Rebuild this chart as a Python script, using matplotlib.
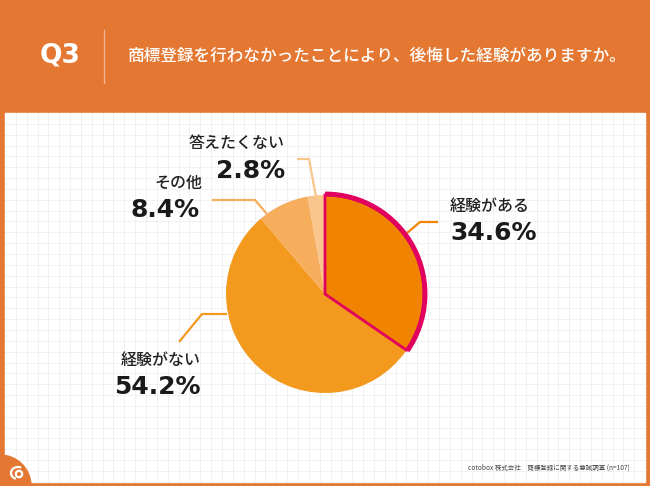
import numpy as np
import matplotlib
matplotlib.use("Agg")
import matplotlib.pyplot as plt
from matplotlib.patches import Rectangle, Circle, Arc, Wedge

plt.rcParams['font.family'] = ['Noto Sans CJK JP', 'DejaVu Sans']

# data
categories = ['経験がある', '経験がない', 'その他', '答えたくない']
values = [34.6, 54.2, 8.4, 2.8]
pct_labels = ['34.6%', '54.2%', '8.4%', '2.8%']
title_q = 'Q3'
title_text = '商標登録を行わなかったことにより、後悔した経験がありますか。'
source_text = 'cotobox 株式会社　商標登録に関する意識調査 (n=107)'

# styles
colors = ['#F08300', '#F39A1E', '#F6AE5C', '#F8C58C']
magenta = '#E2005F'
bg_orange = '#E47832'

# label layout in image pixels (x, y from top)
label_pos = [(490, 206), (161, 360), (178, 183), (237, 143)]
pct_pos = [(494, 233), (157, 387), (165, 210), (251, 171)]
leaders = [
    [(407, 233), (420, 222), (438, 222)],
    [(227, 314), (202, 314), (179, 342)],
    [(267, 214), (255, 200), (212, 200)],
    [(316, 197), (309, 159), (297, 159)],
]

W, H = 650, 486
def Y(y):
    return H - y

fig = plt.figure(figsize=(6.5, 4.86), dpi=100)
ax = fig.add_axes([0, 0, 1, 1])

# background + panel
ax.add_patch(Rectangle((0, 0), W, H, color=bg_orange, zorder=0))
px0, px1, py0, py1 = 5, 645, 113, 482
ax.add_patch(Rectangle((px0, Y(py1)), px1 - px0, py1 - py0, color='white', zorder=1))
step = 10.85
for gx in np.arange(px0 + step, px1, step):
    ax.plot([gx, gx], [Y(py0), Y(py1)], color='#F1F1F1', lw=0.7, zorder=2)
for gy in np.arange(py0 + step, py1, step):
    ax.plot([px0, px1], [Y(gy), Y(gy)], color='#F1F1F1', lw=0.7, zorder=2)

# corner with logo
ax.add_patch(Wedge((0, 0), 31, 0, 90, color=bg_orange, zorder=3))
ax.add_patch(Circle((19, Y(474)), 3.2, fill=False, ec='white', lw=1.6, zorder=4))
ax.add_patch(Arc((18, Y(473)), 14, 12, theta1=60, theta2=250, ec='white', lw=1.6, zorder=4))

# header
ax.text(60, Y(56), title_q, color='white', fontsize=19, fontweight='bold',
        family='DejaVu Sans', ha='center', va='center', zorder=5)
ax.plot([104, 104], [Y(30), Y(83)], color='#F2B48E', lw=1, zorder=5)
ax.text(128, Y(56), title_text, color='white', fontsize=12, fontweight='medium',
        ha='left', va='center', zorder=5)

# pie
cx, cy, r = 325, Y(294), 99
wedges, _ = ax.pie(values, colors=colors, startangle=90, counterclock=False,
                   center=(cx, cy), radius=r, wedgeprops=dict(linewidth=0), frame=True)
for w in wedges:
    w.set_zorder(6)
wedges[0].set_edgecolor(magenta)
wedges[0].set_linewidth(2)
wedges[0].set_zorder(7)
ax.add_patch(Arc((cx, cy), 2 * r + 2, 2 * r + 2, theta1=90 - 3.6 * values[0], theta2=90,
                 ec=magenta, lw=3.5, zorder=8))

# labels and leader lines
for i in range(len(categories)):
    pts = leaders[i]
    ax.plot([p[0] for p in pts], [Y(p[1]) for p in pts], color=colors[i], lw=1.6,
            solid_capstyle='butt', zorder=5)
    ax.text(label_pos[i][0], Y(label_pos[i][1]), categories[i], fontsize=11.5,
            fontweight='medium', color='#222222', ha='center', va='center', zorder=9)
    ax.text(pct_pos[i][0], Y(pct_pos[i][1]), pct_labels[i], fontsize=18, fontweight='bold',
            family='DejaVu Sans', color='#1A1A1A', ha='center', va='center', zorder=9)

ax.text(630, Y(468), source_text, fontsize=4.7, color='#444444', ha='right', va='center', zorder=9)

ax.set_xlim(0, W)
ax.set_ylim(0, H)
ax.axis('off')

fig.savefig('out.png', dpi=100)
